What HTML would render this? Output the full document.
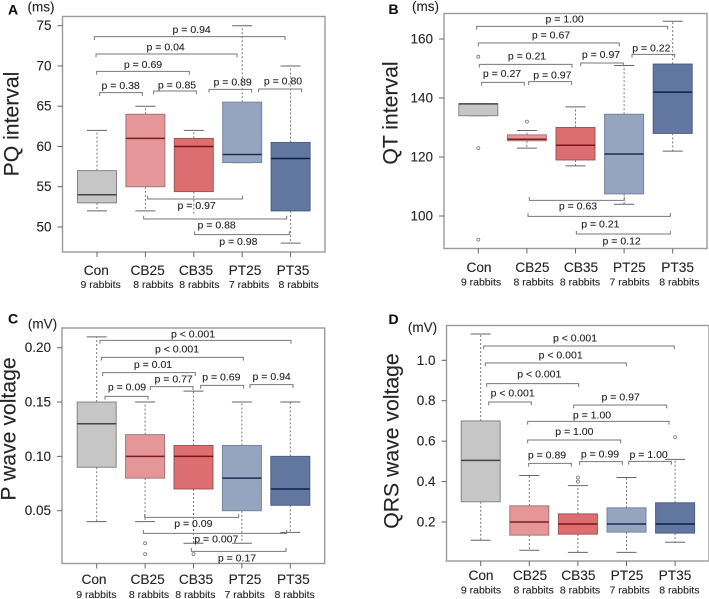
<!DOCTYPE html>
<html lang="en">
<head>
<meta charset="utf-8">
<title>ECG interval box plots</title>
<style>
html,body{margin:0;padding:0;background:#fff;width:709px;height:599px;overflow:hidden}
svg{display:block}
text{font-family:"Liberation Sans",Arial,sans-serif;fill:#262626;stroke:#262626;stroke-width:0.12px}
</style>
</head>
<body>
<svg id="figure" width="709" height="599" viewBox="0 0 709 599" xmlns="http://www.w3.org/2000/svg"></svg>
<script>
// ---- shared categories ----
const groups = ['Con', 'CB25', 'CB35', 'PT25', 'PT35'];
const rabbits = ['9 rabbits', '8 rabbits', '8 rabbits', '7 rabbits', '8 rabbits'];

// ---- A: PQ interval (ms) ----
const pqLow = [52, 52, 51.4, 58, 48];
const pqQ1 = [53, 55, 54.4, 58, 52];
const pqMedian = [54, 61, 60, 59, 58.5];
const pqQ3 = [57, 64, 61, 65.5, 60.5];
const pqHigh = [62, 65, 62, 75, 70];
const pqOutliers = [[], [], [], [], []];
const pqTicks = [50, 55, 60, 65, 70, 75];
const pqTickLabels = ['50', '55', '60', '65', '70', '75'];

// ---- B: QT interval (ms) ----
const qtLow = [134, 123, 117, 104, 122];
const qtQ1 = [134, 125.5, 119, 107.5, 128];
const qtMedian = [138, 126, 124, 121, 142];
const qtQ3 = [138, 127.5, 130, 134.5, 151.5];
const qtHigh = [138, 129, 137, 151, 166];
const qtOutliers = [[154, 123, 92], [132], [], [], []];
const qtTicks = [100, 120, 140, 160];
const qtTickLabels = ['100', '120', '140', '160'];

// ---- C: P wave voltage (mV) ----
const pwLow = [0.04, 0.04, 0.02, 0.02, 0.03];
const pwQ1 = [0.09, 0.08, 0.07, 0.05, 0.055];
const pwMedian = [0.13, 0.10, 0.10, 0.08, 0.07];
const pwQ3 = [0.15, 0.12, 0.11, 0.11, 0.10];
const pwHigh = [0.21, 0.15, 0.16, 0.15, 0.15];
const pwOutliers = [[], [0.02, 0.01], [0.01], [], []];
const pwTicks = [0.05, 0.10, 0.15, 0.20];
const pwTickLabels = ['0.05', '0.10', '0.15', '0.20'];

// ---- D: QRS wave voltage (mV) ----
const qrsLow = [0.11, 0.06, 0.05, 0.05, 0.10];
const qrsQ1 = [0.30, 0.135, 0.14, 0.15, 0.145];
const qrsMedian = [0.505, 0.20, 0.19, 0.19, 0.19];
const qrsQ3 = [0.70, 0.28, 0.24, 0.27, 0.295];
const qrsHigh = [1.13, 0.43, 0.38, 0.42, 0.51];
const qrsOutliers = [[], [], [0.40, 0.42], [], [0.62]];
const qrsTicks = [0.2, 0.4, 0.6, 0.8, 1.0];
const qrsTickLabels = ['0.2', '0.4', '0.6', '0.8', '1.0'];

const fills = ['#c6c6c6', '#e59698', '#dd6e6f', '#95a4bf', '#62779f'];
const strokes = ['#858585', '#a87575', '#a05454', '#76849e', '#4d5f85'];
const medians = ['#454545', '#7c1c1e', '#7c1214', '#1b2b57', '#0c1f50'];

const svg = document.getElementById('figure');
const NS = 'http://www.w3.org/2000/svg';

function make(parent, tag, attrs, content) {
  const el = document.createElementNS(NS, tag);
  for (const k in attrs) el.setAttribute(k, attrs[k]);
  if (content !== undefined) el.textContent = content;
  parent.appendChild(el);
  return el;
}

function label(parent, x, y, str, size, extra) {
  const attrs = Object.assign({x: x, y: y, 'font-size': size, 'text-anchor': 'middle', 'dominant-baseline': 'central'}, extra || {});
  return make(parent, 'text', attrs, str);
}

function drawPanel(cfg) {
  const g = make(svg, 'g', {});
  
  

  const yScale = v => cfg.yA + (v - cfg.vA) * (cfg.yB - cfg.yA) / (cfg.vB - cfg.vA);
  const xScale = i => cfg.x0 + i * cfg.step;

  let el = make(g, 'rect', {x: cfg.left, y: cfg.top, width: cfg.right - cfg.left, height: cfg.bottom - cfg.top, fill: 'none', stroke: '#9a9a9a', 'stroke-width': 1.4});
  
  

  cfg.ticks.forEach((t, i) => {
    const y = yScale(t);
    el = make(g, 'line', {x1: cfg.left - 5, x2: cfg.left, y1: y, y2: y, stroke: '#666', 'stroke-width': 1});
    
    
    el = label(g, cfg.left - 11, y, cfg.tickLabels[i], 13.5, {'text-anchor': 'end'});
    
    
  });

  groups.forEach((name, i) => {
    const x = xScale(i);
    el = make(g, 'line', {x1: x, x2: x, y1: cfg.bottom, y2: cfg.bottom + 5, stroke: '#666', 'stroke-width': 1});
    
    

    // whiskers
    el = make(g, 'line', {x1: x, x2: x, y1: yScale(cfg.q3[i]), y2: yScale(cfg.high[i]), stroke: '#777', 'stroke-width': 1, 'stroke-dasharray': '2 2'});
    
    
    el = make(g, 'line', {x1: x, x2: x, y1: yScale(cfg.q1[i]), y2: yScale(cfg.low[i]), stroke: '#777', 'stroke-width': 1, 'stroke-dasharray': '2 2'});
    
    

    // caps
    el = make(g, 'line', {x1: x - 10, x2: x + 10, y1: yScale(cfg.high[i]), y2: yScale(cfg.high[i]), stroke: '#666', 'stroke-width': 1});
    
    
    if (!(cfg.noLowCap || []).includes(i)) {
      el = make(g, 'line', {x1: x - 10, x2: x + 10, y1: yScale(cfg.low[i]), y2: yScale(cfg.low[i]), stroke: '#666', 'stroke-width': 1});
      
      
    }

    // box
    el = make(g, 'rect', {x: x - 19.5, y: yScale(cfg.q3[i]), width: 39, height: yScale(cfg.q1[i]) - yScale(cfg.q3[i]), fill: fills[i], stroke: strokes[i], 'stroke-width': 1});
    
    

    // median
    el = make(g, 'line', {x1: x - 19.5, x2: x + 19.5, y1: yScale(cfg.median[i]), y2: yScale(cfg.median[i]), stroke: medians[i], 'stroke-width': 1.5});
    
    

    // outliers
    cfg.outliers[i].forEach(v => {
      el = make(g, 'circle', {cx: x, cy: yScale(v), r: 1.5, fill: '#fff', stroke: '#777', 'stroke-width': 0.8});
      
      
    });

    // category labels
    el = label(g, cfg.catX[i] / 3 + cfg.ox, cfg.catY / 3 + cfg.oy, name, 13.7);
    
    
    el = label(g, cfg.subX[i] / 3 + cfg.ox, cfg.subY / 3 + cfg.oy, rabbits[i], 10.5);
    
    
  });

  // y title
  el = label(g, cfg.titleX, cfg.titleY, cfg.title, 21.2, {transform: 'rotate(-90 ' + cfg.titleX + ' ' + cfg.titleY + ')'});
  
  

  // unit
  el = label(g, cfg.unitX, cfg.unitY, cfg.unit, 13.5);
  
  

  // panel letter
  el = label(g, cfg.letterX, cfg.letterY, cfg.letter, 14, {'font-weight': 'bold', style: 'fill:#111'});
  
  

  // significance brackets: [x1, x2, y, direction, text, textX, textY]
  cfg.brackets.forEach(b => {
    const x1 = b[0] / 3 + cfg.ox, x2 = b[1] / 3 + cfg.ox, y = b[2] / 3 + cfg.oy, tip = y + b[3] * 3.3;
    el = make(g, 'path', {d: 'M' + x1 + ' ' + tip + 'V' + y + 'H' + x2 + 'V' + tip, fill: 'none', stroke: '#777', 'stroke-width': 1});
    
    
    el = label(g, b[5] / 3 + cfg.ox, b[6] / 3 + cfg.oy, b[4], 10.5);
    
    
  });
}

drawPanel({
  name: 'panel-a-pq-interval', letter: 'A', letterX: 13, letterY: 9.5, unit: '(ms)', unitX: 41, unitY: 7,
  title: 'PQ interval', titleX: 12, titleY: 124,
  left: 62.5, right: 325, top: 16.5, bottom: 252,
  x0: 97, step: 48.4, vA: 50, yA: 227, vB: 75, yB: 25.7,
  ticks: pqTicks, tickLabels: pqTickLabels,
  low: pqLow, q1: pqQ1, median: pqMedian, q3: pqQ3, high: pqHigh, outliers: pqOutliers, noLowCap: [2],
  ox: 0, oy: 0, catY: 811, subY: 855,
  catX: [289, 443, 588, 735, 879], subX: [302, 460, 598, 747, 896],
  brackets: [
    [283, 855, 110, 1, 'p = 0.94', 575, 90],
    [288, 711, 162, 1, 'p = 0.04', 497, 142],
    [290, 568, 214, 1, 'p = 0.69', 429, 195],
    [299, 427, 278, 1, 'p = 0.38', 362, 258],
    [461, 589, 273, 1, 'p = 0.85', 531, 256],
    [627, 755, 268, 1, 'p = 0.89', 698, 248],
    [776, 905, 267, 1, 'p = 0.80', 849, 244],
    [443, 727, 597, -1, 'p = 0.97', 590, 618],
    [431, 860, 657, -1, 'p = 0.88', 650, 677],
    [584, 868, 704, -1, 'p = 0.98', 715, 726]
  ]
});

drawPanel({
  name: 'panel-b-qt-interval', letter: 'B', letterX: 393.5, letterY: 9, unit: '(ms)', unitX: 425.5, unitY: 6.5,
  title: 'QT interval', titleX: 391, titleY: 113,
  left: 444, right: 707, top: 13.5, bottom: 248.5,
  x0: 478.3, step: 48.6, vA: 100, yA: 216, vB: 160, yB: 39,
  ticks: qtTicks, tickLabels: qtTickLabels,
  low: qtLow, q1: qtQ1, median: qtMedian, q3: qtQ3, high: qtHigh, outliers: qtOutliers,
  ox: 355, oy: 0, catY: 802, subY: 847,
  catX: [372, 532, 678, 823, 968], subX: [378, 536, 675, 824, 973],
  brackets: [
    [365, 938, 79, 1, 'p = 1.00', 629, 58],
    [370, 793, 129, 1, 'p = 0.67', 588, 107],
    [373, 651, 193, 1, 'p = 0.21', 516, 170],
    [380, 508, 247, 1, 'p = 0.27', 441, 222],
    [521, 650, 245, 1, 'p = 0.97', 592, 227],
    [677, 805, 189, 1, 'p = 0.97', 738, 165],
    [831, 959, 163, 1, 'p = 0.22', 889, 146],
    [523, 808, 601, -1, 'p = 0.63', 669, 620],
    [519, 946, 649, -1, 'p = 0.21', 736, 674],
    [664, 946, 702, -1, 'p = 0.12', 800, 724]
  ]
});

drawPanel({
  name: 'panel-c-p-wave-voltage', letter: 'C', letterX: 13, letterY: 318.5, unit: '(mV)', unitX: 42.5, unitY: 324,
  title: 'P wave voltage', titleX: 9, titleY: 429,
  left: 62, right: 324.7, top: 328, bottom: 563.5,
  x0: 96.7, step: 48.4, vA: 0.05, yA: 510.7, vB: 0.20, yB: 347.7,
  ticks: pwTicks, tickLabels: pwTickLabels,
  low: pwLow, q1: pwQ1, median: pwMedian, q3: pwQ3, high: pwHigh, outliers: pwOutliers,
  ox: 0, oy: 300, catY: 838, subY: 885,
  catX: [282, 443, 588, 735, 880], subX: [289, 447, 586, 734, 884],
  brackets: [
    [300, 873, 121, 1, 'p < 0.001', 579, 103],
    [304, 730, 172, 1, 'p < 0.001', 531, 149],
    [308, 586, 218, 1, 'p = 0.01', 459, 195],
    [315, 444, 289, 1, 'p = 0.09', 381, 263],
    [451, 579, 260, 1, 'p = 0.77', 521, 238],
    [602, 731, 256, 1, 'p = 0.69', 664, 233],
    [750, 879, 254, 1, 'p = 0.94', 815, 231],
    [434, 716, 652, -1, 'p = 0.09', 580, 672],
    [430, 860, 700, -1, 'p = 0.007', 649, 718],
    [574, 858, 754, -1, 'p = 0.17', 711, 776]
  ]
});

drawPanel({
  name: 'panel-d-qrs-wave-voltage', letter: 'D', letterX: 393.5, letterY: 319, unit: '(mV)', unitX: 422.5, unitY: 327.5,
  title: 'QRS wave voltage', titleX: 392, titleY: 441,
  left: 446.5, right: 709, top: 325.5, bottom: 561,
  x0: 480.7, step: 48.6, vA: 0.2, yA: 522, vB: 1.0, yB: 360.3,
  ticks: qrsTicks, tickLabels: qrsTickLabels,
  low: qrsLow, q1: qrsQ1, median: qrsMedian, q3: qrsQ3, high: qrsHigh, outliers: qrsOutliers,
  ox: 355, oy: 300, catY: 827, subY: 872,
  catX: [378, 525, 670, 816, 960], subX: [378, 536, 675, 824, 973],
  brackets: [
    [386, 958, 138, 1, 'p < 0.001', 660, 115],
    [391, 814, 189, 1, 'p < 0.001', 617, 167],
    [395, 671, 251, 1, 'p < 0.001', 553, 223],
    [401, 529, 306, 1, 'p < 0.001', 473, 280],
    [656, 935, 315, 1, 'p = 0.97', 797, 293],
    [518, 942, 364, 1, 'p = 1.00', 711, 346],
    [518, 797, 420, 1, 'p = 1.00', 658, 396],
    [521, 649, 490, 1, 'p = 0.89', 576, 466],
    [674, 802, 485, 1, 'p = 0.99', 735, 463],
    [821, 949, 484, 1, 'p = 1.00', 881, 465]
  ]
});
</script>
</body>
</html>
